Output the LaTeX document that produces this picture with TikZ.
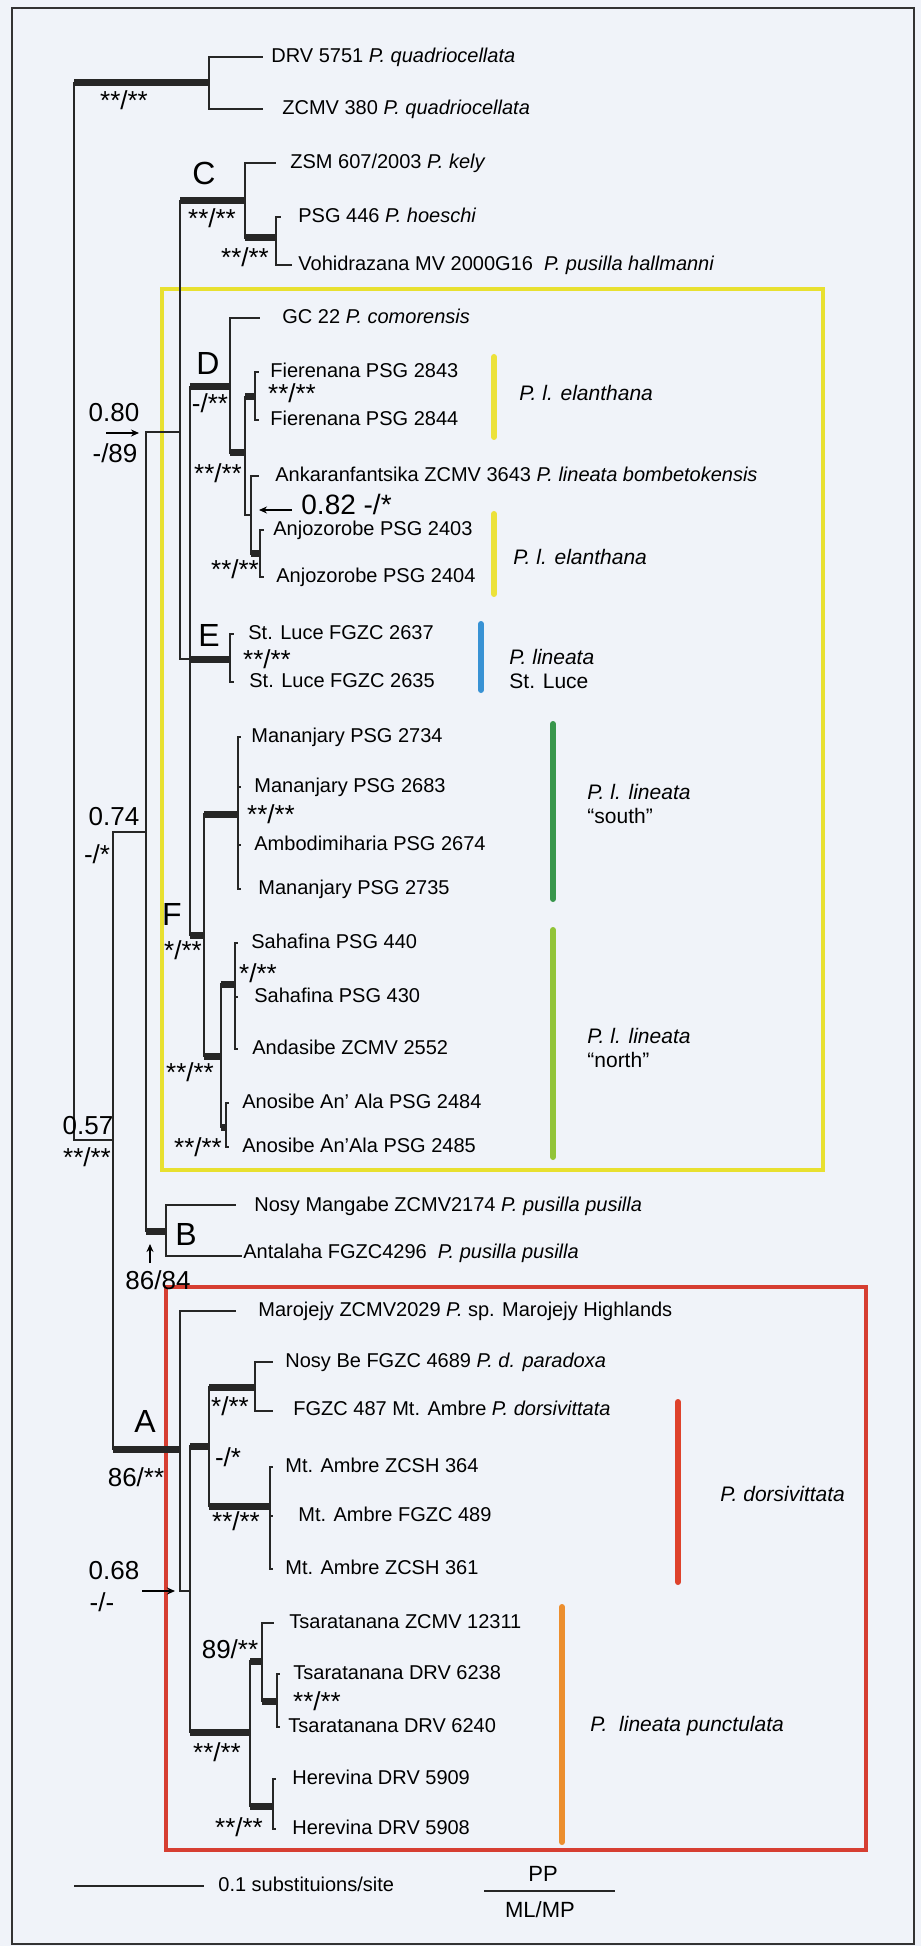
\documentclass[tikz,border=0pt]{standalone}
\usepackage{fontspec}
\setmainfont{Liberation Sans}
\usetikzlibrary{arrows.meta}

\definecolor{paper}{RGB}{240,243,249}
\definecolor{boxyellow}{RGB}{232,224,48}
\definecolor{boxred}{RGB}{214,62,50}
\definecolor{clyellow}{RGB}{236,226,58}
\definecolor{clblue}{RGB}{56,146,212}
\definecolor{clgreen}{RGB}{56,150,76}
\definecolor{cllime}{RGB}{146,196,56}
\definecolor{clred}{RGB}{222,66,44}
\definecolor{clorange}{RGB}{236,142,46}

\begin{document}
\begin{tikzpicture}[
    x=0.5pt, y=-0.5pt,
    br/.style={line width=1pt, black!85},
    thk/.style={line width=3.5pt, black!85},
    taxon/.style={anchor=mid west, inner sep=0pt, font=\fontsize{10}{12}\selectfont},
    group/.style={anchor=west, inner sep=0pt, align=left, font=\fontsize{10.5}{12}\selectfont},
    supp/.style={inner sep=0pt, font=\fontsize{13}{15}\selectfont},
    clade/.style={inner sep=0pt, font=\fontsize{16}{18}\selectfont},
    gbar/.style={line width=3pt, line cap=round},
    arrow/.style={-{Stealth[length=4pt,width=3.5pt]}, line width=0.9pt}
]

    % Frame and boxes
    \fill[paper] (0,0) rectangle (921,1946);
    \useasboundingbox (0,0) rectangle (921,1946);
    \draw[line width=1pt, black!80] (12,8) rectangle (914,1944);
    \draw[boxyellow, line width=2pt] (162,289) rectangle (823,1170);
    \draw[boxred, line width=1.6pt] (166,1287) rectangle (866,1850);

    % Internal nodes
    \coordinate (root) at (74,611);
    \coordinate (nQ) at (209,83);
    \coordinate (n057) at (113,1140);
    \coordinate (n074) at (146,832);
    \coordinate (n080) at (180,432);
    \coordinate (nC) at (245,201);
    \coordinate (nC2) at (276,238);
    \coordinate (nX) at (190,659);
    \coordinate (nD) at (230,387);
    \coordinate (nD2) at (245,453);
    \coordinate (nFie) at (255,397);
    \coordinate (nD3) at (251,515);
    \coordinate (nAnj) at (260,554);
    \coordinate (nE) at (230,659);
    \coordinate (nF) at (204,935);
    \coordinate (nS) at (238,814);
    \coordinate (nN) at (221,1056);
    \coordinate (nSa) at (235,984);
    \coordinate (nAn) at (226,1127);
    \coordinate (nB) at (166,1231);
    \coordinate (nA) at (180,1449);
    \coordinate (nY) at (190,1591);
    \coordinate (nZ) at (209,1446);
    \coordinate (nNB) at (255,1387);
    \coordinate (nMA) at (270,1506);
    \coordinate (nW) at (250,1732);
    \coordinate (nTs) at (262,1661);
    \coordinate (nTs2) at (277,1701);
    \coordinate (nHe) at (273,1806);

    % Tip ends
    \coordinate (xDRV) at (263,57);
    \coordinate (xZ380) at (263,109);
    \coordinate (xKely) at (276,163);
    \coordinate (xHoe) at (281,217);
    \coordinate (xVoh) at (292,265);
    \coordinate (xGC) at (260,318);
    \coordinate (xF43) at (259,372);
    \coordinate (xF44) at (259,420);
    \coordinate (xAnk) at (259,476);
    \coordinate (xAj03) at (264,530);
    \coordinate (xAj04) at (264,577);
    \coordinate (xSL37) at (234,634);
    \coordinate (xSL35) at (234,682);
    \coordinate (xM34) at (241,737);
    \coordinate (xM83) at (241,787);
    \coordinate (xA74) at (241,845);
    \coordinate (xM35) at (241,889);
    \coordinate (xS440) at (238,943);
    \coordinate (xS430) at (238,997);
    \coordinate (xAnd) at (238,1049);
    \coordinate (xAn84) at (229,1103);
    \coordinate (xAn85) at (229,1147);
    \coordinate (xNM) at (236,1205);
    \coordinate (xAnt) at (242,1256);
    \coordinate (xMar) at (236,1311);
    \coordinate (xNB) at (273,1362);
    \coordinate (x487) at (273,1411);
    \coordinate (x364) at (273,1467);
    \coordinate (x489) at (273,1516);
    \coordinate (x361) at (273,1569);
    \coordinate (xTs1) at (274,1623);
    \coordinate (x6238) at (280,1674);
    \coordinate (x6240) at (280,1727);
    \coordinate (x5909) at (276,1779);
    \coordinate (x5908) at (276,1829);

    % Branches
    \draw[br] (root) |- (nQ) (root) |- (n057);
    \draw[br] (nQ) |- (xDRV) (nQ) |- (xZ380);
    \draw[br] (n057) |- (n074) (n057) |- (nA);
    \draw[br] (n074) |- (n080) (n074) |- (nB);
    \draw[br] (n080) |- (nC) (n080) |- (nX);
    \draw[br] (nC) |- (xKely) (nC) |- (nC2);
    \draw[br] (nC2) |- (xHoe) (nC2) |- (xVoh);
    \draw[br] (nX) |- (nD) (nX) |- (nE) (nX) |- (nF);
    \draw[br] (nD) |- (xGC) (nD) |- (nD2);
    \draw[br] (nD2) |- (nFie) (nD2) |- (nD3);
    \draw[br] (nFie) |- (xF43) (nFie) |- (xF44);
    \draw[br] (nD3) |- (xAnk) (nD3) |- (nAnj);
    \draw[br] (nAnj) |- (xAj03) (nAnj) |- (xAj04);
    \draw[br] (nE) |- (xSL37) (nE) |- (xSL35);
    \draw[br] (nF) |- (nS) (nF) |- (nN);
    \draw[br] (nS) |- (xM34) (nS) |- (xM83) (nS) |- (xA74) (nS) |- (xM35);
    \draw[br] (nN) |- (nSa) (nN) |- (nAn);
    \draw[br] (nSa) |- (xS440) (nSa) |- (xS430) (nSa) |- (xAnd);
    \draw[br] (nAn) |- (xAn84) (nAn) |- (xAn85);
    \draw[br] (nB) |- (xNM) (nB) |- (xAnt);
    \draw[br] (nA) |- (xMar) (nA) |- (nY);
    \draw[br] (nY) |- (nZ) (nY) |- (nW);
    \draw[br] (nZ) |- (nNB) (nZ) |- (nMA);
    \draw[br] (nNB) |- (xNB) (nNB) |- (x487);
    \draw[br] (nMA) |- (x364) (nMA) |- (x489) (nMA) |- (x361);
    \draw[br] (nW) |- (nTs) (nW) |- (nHe);
    \draw[br] (nTs) |- (xTs1) (nTs) |- (nTs2);
    \draw[br] (nTs2) |- (x6238) (nTs2) |- (x6240);
    \draw[br] (nHe) |- (x5909) (nHe) |- (x5908);

    % Supported branches
    \draw[thk] (root |- nQ) -- (nQ);
    \draw[thk] (n057 |- nA) -- (nA);
    \draw[thk] (n074 |- nB) -- (nB);
    \draw[thk] (n080 |- nC) -- (nC);
    \draw[thk] (nC |- nC2) -- (nC2);
    \draw[thk] (nX |- nD) -- (nD);
    \draw[thk] (nX |- nE) -- (nE);
    \draw[thk] (nX |- nF) -- (nF);
    \draw[thk] (nD |- nD2) -- (nD2);
    \draw[thk] (nD2 |- nFie) -- (nFie);
    \draw[thk] (nD3 |- nAnj) -- (nAnj);
    \draw[thk] (nF |- nS) -- (nS);
    \draw[thk] (nF |- nN) -- (nN);
    \draw[thk] (nN |- nSa) -- (nSa);
    \draw[thk] (nN |- nAn) -- (nAn);
    \draw[thk] (nY |- nZ) -- (nZ);
    \draw[thk] (nY |- nW) -- (nW);
    \draw[thk] (nZ |- nNB) -- (nNB);
    \draw[thk] (nZ |- nMA) -- (nMA);
    \draw[thk] (nW |- nTs) -- (nTs);
    \draw[thk] (nTs |- nTs2) -- (nTs2);
    \draw[thk] (nW |- nHe) -- (nHe);

    % Taxa
    \node[taxon] (tDRV) at (271,57) {DRV 5751 \textit{P. quadriocellata}};
    \node[taxon] (tZ380) at (282,109) {ZCMV 380 \textit{P. quadriocellata}};
    \node[taxon] (tKely) at (290,163) {ZSM 607/2003 \textit{P. kely}};
    \node[taxon] (tHoe) at (298,217) {PSG 446 \textit{P. hoeschi}};
    \node[taxon] (tVoh) at (298,265) {Vohidrazana MV 2000G16\ \ \textit{P. pusilla hallmanni}};
    \node[taxon] (tGC) at (282,318) {GC 22 \textit{P. comorensis}};
    \node[taxon] (tF43) at (270,372) {Fierenana PSG 2843};
    \node[taxon] (tF44) at (270,420) {Fierenana PSG 2844};
    \node[taxon] (tAnk) at (275,476) {Ankaranfantsika ZCMV 3643 \textit{P. lineata bombetokensis}};
    \node[taxon] (tAj03) at (273,530) {Anjozorobe PSG 2403};
    \node[taxon] (tAj04) at (276,577) {Anjozorobe PSG 2404};
    \node[taxon] (tSL37) at (248,634) {St. Luce FGZC 2637};
    \node[taxon] (tSL35) at (249,682) {St. Luce FGZC 2635};
    \node[taxon] (tM34) at (251,737) {Mananjary PSG 2734};
    \node[taxon] (tM83) at (254,787) {Mananjary PSG 2683};
    \node[taxon] (tA74) at (254,845) {Ambodimiharia PSG 2674};
    \node[taxon] (tM35) at (258,889) {Mananjary PSG 2735};
    \node[taxon] (tS440) at (251,943) {Sahafina PSG 440};
    \node[taxon] (tS430) at (254,997) {Sahafina PSG 430};
    \node[taxon] (tAnd) at (252,1049) {Andasibe ZCMV 2552};
    \node[taxon] (tAn84) at (242,1103) {Anosibe An’ Ala PSG 2484};
    \node[taxon] (tAn85) at (242,1147) {Anosibe An’Ala PSG 2485};
    \node[taxon] (tNM) at (254,1206) {Nosy Mangabe ZCMV2174 \textit{P. pusilla pusilla}};
    \node[taxon] (tAnt) at (243,1253) {Antalaha FGZC4296\ \ \textit{P. pusilla pusilla}};
    \node[taxon] (tMar) at (258,1311) {Marojejy ZCMV2029 \textit{P.} sp. Marojejy Highlands};
    \node[taxon] (tNB) at (285,1362) {Nosy Be FGZC 4689 \textit{P. d. paradoxa}};
    \node[taxon] (t487) at (293,1410) {FGZC 487 Mt. Ambre \textit{P. dorsivittata}};
    \node[taxon] (t364) at (285,1467) {Mt. Ambre ZCSH 364};
    \node[taxon] (t489) at (298,1516) {Mt. Ambre FGZC 489};
    \node[taxon] (t361) at (285,1569) {Mt. Ambre ZCSH 361};
    \node[taxon] (tTs1) at (289,1623) {Tsaratanana ZCMV 12311};
    \node[taxon] (t6238) at (293,1674) {Tsaratanana DRV 6238};
    \node[taxon] (t6240) at (288,1727) {Tsaratanana DRV 6240};
    \node[taxon] (t5909) at (292,1779) {Herevina DRV 5909};
    \node[taxon] (t5908) at (292,1829) {Herevina DRV 5908};

    % Group bars and names
    \draw[gbar, clyellow] (494,357) -- (494,437);
    \draw[gbar, clyellow] (494,514) -- (494,594);
    \draw[gbar, clblue] (481,624) -- (481,690);
    \draw[gbar, clgreen] (553,724) -- (553,899);
    \draw[gbar, cllime] (553,930) -- (553,1157);
    \draw[gbar, clred] (678,1402) -- (678,1582);
    \draw[gbar, clorange] (562,1607) -- (562,1842);
    \node[group] (gEl1) at (519,393) {\textit{P. l. elanthana}};
    \node[group] (gEl2) at (513,557) {\textit{P. l. elanthana}};
    \node[group] (gSL) at (509,669) {\textit{P. lineata}\\St. Luce};
    \node[group] (gSouth) at (587,804) {\textit{P. l. lineata}\\“south”};
    \node[group] (gNorth) at (587,1048) {\textit{P. l. lineata}\\“north”};
    \node[group] (gDor) at (720,1494) {\textit{P. dorsivittata}};
    \node[group] (gPun) at (590,1726) {\textit{P.\ \ lineata punctulata}};

    % Clade letters
    \node[clade] (cC) at (204,173) {C};
    \node[clade] (cD) at (208,363) {D};
    \node[clade] (cE) at (209,635) {E};
    \node[clade] (cF) at (172,914) {F};
    \node[clade] (cB) at (186,1234) {B};
    \node[clade] (cA) at (145,1421) {A};

    % Support values
    \node[supp] (sQ) at (124,100) {**/**};
    \node[supp] (sC) at (212,218) {**/**};
    \node[supp] (sC2) at (245,257) {**/**};
    \node[supp] (sD) at (210,403) {-/**};
    \node[supp] (sFie) at (292,393) {**/**};
    \node[supp] (sD2) at (218,473) {**/**};
    \node[supp] (p080) at (114,413) {0.80};
    \node[supp] (s080) at (115,453) {-/89};
    \node[supp, anchor=west] (p082) at (301,504) {\fontsize{14}{16}\selectfont 0.82 -/*};
    \node[supp] (sAnj) at (235,569) {**/**};
    \node[supp] (sE) at (267,659) {**/**};
    \node[supp] (sS) at (271,814) {**/**};
    \node[supp] (p074) at (114,817) {0.74};
    \node[supp] (s074) at (97,854) {-/*};
    \node[supp] (sF) at (183,950) {*/**};
    \node[supp] (sSa) at (258,973) {*/**};
    \node[supp] (sN) at (190,1072) {**/**};
    \node[supp] (sAn) at (198,1147) {**/**};
    \node[supp] (p057) at (88,1126) {0.57};
    \node[supp] (s057) at (87,1157) {**/**};
    \node[supp] (sB) at (158,1280) {86/84};
    \node[supp] (sA) at (136,1477) {86/**};
    \node[supp] (sNB) at (230,1406) {*/**};
    \node[supp] (sZ) at (228,1457) {-/*};
    \node[supp] (sMA) at (236,1521) {**/**};
    \node[supp] (p068) at (114,1571) {0.68};
    \node[supp] (s068) at (102,1602) {-/-};
    \node[supp] (sTs) at (230,1649) {89/**};
    \node[supp] (sTs2) at (317,1701) {**/**};
    \node[supp] (sW) at (217,1752) {**/**};
    \node[supp] (sHe) at (239,1827) {**/**};

    % Pointer arrows
    \coordinate (a080s) at (106,433);
    \coordinate (a080e) at (139,433);
    \coordinate (a082s) at (292,510);
    \coordinate (a082e) at (259,510);
    \coordinate (aBs) at (150,1263);
    \coordinate (aBe) at (150,1244);
    \coordinate (a068s) at (142,1591);
    \coordinate (a068e) at (175,1591);
    \draw[arrow] (a080s) -- (a080e);
    \draw[arrow] (a082s) -- (a082e);
    \draw[arrow] (aBs) -- (aBe);
    \draw[arrow] (a068s) -- (a068e);

    % Scale bar and key
    \coordinate (sb1) at (74,1886);
    \coordinate (sb2) at (204,1886);
    \draw[br] (sb1) -- (sb2);
    \node[taxon] (sbt) at (218,1886) {0.1 substituions/site};
    \node[supp, font=\fontsize{11}{13}\selectfont] (kPP) at (543,1874) {PP};
    \node[supp, font=\fontsize{11}{13}\selectfont] (kML) at (540,1910) {ML/MP};
    \coordinate (k1) at (484,1891);
    \coordinate (k2) at (615,1891);
    \draw[line width=1.3pt, black!85] (k1) -- (k2);

\end{tikzpicture}
\end{document}
